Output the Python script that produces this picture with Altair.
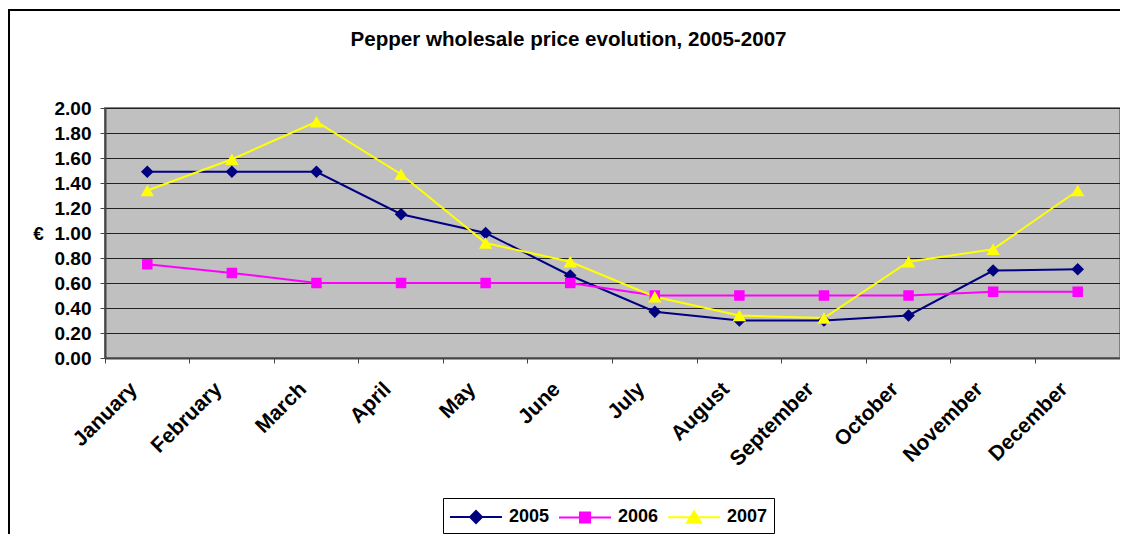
import altair as alt
import pandas as pd

months = ["January", "February", "March", "April", "May", "June", "July",
          "August", "September", "October", "November", "December"]
years = ["2005", "2006", "2007"]
v2005 = [1.49, 1.49, 1.49, 1.15, 1.00, 0.66, 0.37, 0.30, 0.30, 0.34, 0.70, 0.71]
v2006 = [0.75, 0.68, 0.60, 0.60, 0.60, 0.60, 0.50, 0.50, 0.50, 0.50, 0.53, 0.53]
v2007 = [1.34, 1.59, 1.89, 1.47, 0.92, 0.77, 0.49, 0.34, 0.32, 0.77, 0.87, 1.34]
y_ticks = [0.0, 0.2, 0.4, 0.6, 0.8, 1.0, 1.2, 1.4, 1.6, 1.8, 2.0]
colors = ["#000080", "#FF00FF", "#FFFF00"]
shapes = ["diamond", "square", "triangle-up"]
marker_sizes = [160, 110, 180]
title_text = "Pepper wholesale price evolution, 2005-2007"

rows = []
for yr, vals in zip(years, [v2005, v2006, v2007]):
    for m, v in zip(months, vals):
        rows.append({"month": m, "year": yr, "price": v})
df = pd.DataFrame(rows)

FONT = "Liberation Sans"
W, H = 1015, 250


def by_year(values):
    cond = alt.when(alt.datum.year == years[0]).then(alt.value(values[0]))
    cond = cond.when(alt.datum.year == years[1]).then(alt.value(values[1]))
    return cond.otherwise(alt.value(values[2]))


x_enc = alt.X("month:N", sort=months,
              scale=alt.Scale(type="band", paddingInner=0, paddingOuter=0),
              axis=alt.Axis(title=None, bandPosition=0, labelAngle=-45,
                            labelAlign="right", labelBaseline="top",
                            labelOffset=-21, labelPadding=15,
                            labelFont=FONT, labelFontSize=21, labelFontWeight="bold",
                            labelColor="black", tickSize=5, tickColor="#444444",
                            domainColor="#444444", domainWidth=2, grid=False))
y_enc = alt.Y("price:Q", scale=alt.Scale(domain=[0, 2], nice=False),
              axis=alt.Axis(values=y_ticks, format=".2f", title="€", titleAngle=0,
                            titleX=-67, titleY=125, titleAlign="center",
                            titleBaseline="middle", titleFont=FONT, titleFontSize=19,
                            titleFontWeight="bold", titleColor="black",
                            labelFont=FONT, labelFontSize=19, labelFontWeight="bold",
                            labelColor="black", labelPadding=9, tickSize=5,
                            tickColor="#444444", domainColor="#444444", domainWidth=2,
                            grid=True, gridColor="#222222", gridWidth=1))

frame = alt.Chart(df).mark_rect(fillOpacity=0, stroke="black", strokeWidth=2, clip=False).encode(
    x=alt.value(-96), x2=alt.value(1100), y=alt.value(-98), y2=alt.value(600))

lines = alt.Chart(df).mark_line(strokeWidth=2).encode(
    x=x_enc, y=y_enc, detail="year:N", color=by_year(colors))

points = alt.Chart(df).mark_point(filled=True, opacity=1).encode(
    x=x_enc, y=y_enc, color=by_year(colors), shape=by_year(shapes), size=by_year(marker_sizes))

# legend symbols: a line segment with the series marker on it (unit = 12 px)
legend_paths = [
    "M-1,0H3.33M1.17,-0.5L1.67,0L1.17,0.5L0.67,0Z",
    "M-1,0H3.33M0.75,-0.42H1.59V0.42H0.75Z",
    "M-1,0H3.33M1.17,-0.5L1.75,0.45H0.59Z",
]
leg = alt.Legend(title=None, orient="none", legendX=338, legendY=390,
                 direction="horizontal", strokeColor="black", padding=6,
                 labelFont=FONT, labelFontSize=18, labelFontWeight="bold",
                 labelColor="black", symbolSize=576, symbolStrokeWidth=2,
                 labelOffset=34, columnPadding=5, symbolOpacity=1)
legend_layer = alt.Chart(df).mark_point(filled=True, clip=True, strokeWidth=2).encode(
    x=alt.value(-60), y=alt.value(-60),
    fill=alt.Fill("year:N", scale=alt.Scale(domain=years, range=colors), legend=leg),
    stroke=alt.Stroke("year:N", scale=alt.Scale(domain=years, range=colors), legend=leg),
    shape=alt.Shape("year:N", scale=alt.Scale(domain=years, range=legend_paths), legend=leg))

chart = alt.layer(frame, lines, points, legend_layer).properties(
    width=W, height=H,
    title=alt.TitleParams(title_text, font=FONT, fontSize=20.6, fontWeight="bold",
                          color="black", anchor="middle", dx=-44, offset=-58,
                          baseline="alphabetic"),
    autosize=alt.AutoSizeParams(type="none"),
    padding={"left": 97, "top": 100, "right": 0, "bottom": 176},
).configure(background="white").configure_view(fill="#C0C0C0", stroke="#808080", strokeWidth=2)

chart.save("out.html", embed_options={"renderer": "svg", "actions": False})
